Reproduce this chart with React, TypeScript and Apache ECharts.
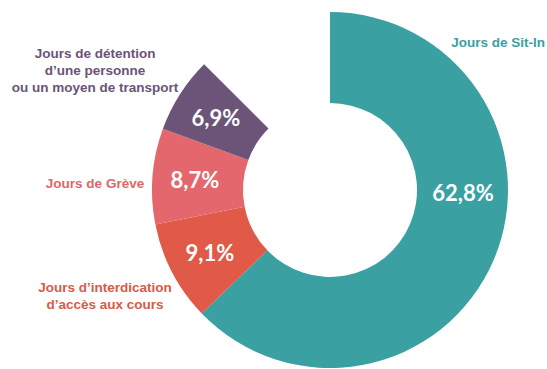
import React, { useEffect, useRef } from "react";
import * as echarts from "echarts";

const categories = [
  "Jours de Sit-In",
  "Jours d’interdication\nd’accès aux cours",
  "Jours de Grève",
  "Jours de détention\nd’une personne\nou un moyen de transport",
];
const values = [62.8, 9.1, 8.7, 6.9];
const colors = ["#3aa0a2", "#e05a47", "#e4676d", "#6b5478"];
const labelColors = ["#3a9fa1", "#d95a45", "#e0666c", "#6a5478"];

// label anchor positions (layout only)
const outsideLabelPos = [
  [498, 42],
  [105, 296],
  [95, 183],
  [95, 70],
];

export default function App() {
  const ref = useRef<HTMLDivElement>(null);
  useEffect(() => {
    if (!ref.current) return;
    const chart = echarts.init(ref.current, undefined, { renderer: "svg" });
    const fmt = (v: number) => v.toFixed(1).replace(".", ",") + "%";
    chart.setOption({
      animation: false,
      backgroundColor: "#ffffff",
      series: [
        {
          type: "pie",
          center: [330, 190],
          radius: [87, 178],
          startAngle: 90,
          endAngle: -225,
          clockwise: true,
          silent: true,
          data: categories.map((c, i) => ({
            name: c,
            value: values[i],
            itemStyle: { color: colors[i] },
          })),
          label: {
            show: true,
            position: "inside",
            formatter: (p: any) => fmt(p.value),
            color: "#ffffff",
            fontFamily: "Lato",
            fontWeight: "bold",
            fontSize: 22,
            overflow: "none",
          },
          labelLine: { show: false },
          labelLayout: (p: any) =>
            p.dataIndex === 0 ? { x: 463, y: 192, align: "center", verticalAlign: "middle" } : {},
        },
        {
          type: "pie",
          center: [330, 190],
          radius: [87, 178],
          startAngle: 90,
          endAngle: -225,
          clockwise: true,
          silent: true,
          data: categories.map((c, i) => ({
            name: c,
            value: values[i],
            itemStyle: { color: "rgba(0,0,0,0)" },
            label: { color: labelColors[i] },
          })),
          label: {
            show: true,
            position: "outside",
            formatter: (p: any) => p.name,
            fontFamily: "Liberation Sans",
            fontWeight: "bold",
            fontSize: 13.5,
            lineHeight: 17,
            align: "center",
            overflow: "none",
            width: 240,
          },
          labelLine: { show: false },
          labelLayout: (p: any) => ({
            x: outsideLabelPos[p.dataIndex][0],
            y: outsideLabelPos[p.dataIndex][1],
            align: "center",
            verticalAlign: "middle",
          }),
        },
      ],
    });
    return () => chart.dispose();
  }, []);
  return (
    <div
      ref={ref}
      style={{ position: "fixed", left: 0, top: 0, width: 547, height: 369 }}
    />
  );
}
